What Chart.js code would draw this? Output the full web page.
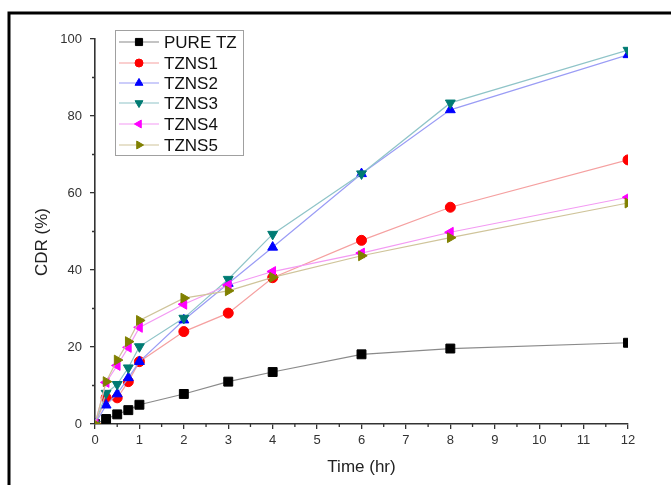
<!DOCTYPE html>
<html>
<head>
<meta charset="utf-8">
<script src="https://cdn.jsdelivr.net/npm/chart.js@4.4.1/dist/chart.umd.min.js"></script>
<style>
  html, body { margin: 0; padding: 0; background: #fff; }
  #wrap { width: 671px; height: 485px; position: relative; }
</style>
</head>
<body>
<div id="wrap"><canvas id="cdrChart" width="671" height="485"></canvas></div>
<script>
// time points (hr)
const times = [0, 0.25, 0.5, 0.75, 1, 2, 3, 4, 6, 8, 12];

// CDR (%)
const pureTZ = [0, 1.3, 2.5, 3.6, 5.0, 7.8, 11.0, 13.5, 18.1, 19.6, 21.1];
const tzns1 = [0, 6.8, 6.8, 11.0, 16.2, 24.0, 28.8, 38.0, 47.7, 56.3, 68.6];
const tzns2 = [0, 4.9, 7.8, 12.0, 16.2, 27.0, 36.5, 45.9, 65.0, 81.6, 95.9];
const tzns3 = [0, 8.0, 10.3, 14.6, 20.1, 27.5, 37.6, 49.3, 65.0, 83.4, 97.1];
const tzns4 = [0, 10.8, 15.2, 19.9, 25.1, 31.1, 36.1, 39.6, 44.4, 49.8, 58.9];
const tzns5 = [0, 11.0, 16.6, 21.4, 26.9, 32.7, 34.6, 38.1, 43.7, 48.4, 57.4];

const seriesNames = ['PURE TZ', 'TZNS1', 'TZNS2', 'TZNS3', 'TZNS4', 'TZNS5'];
const seriesData = [pureTZ, tzns1, tzns2, tzns3, tzns4, tzns5];

const xTicks = [0, 1, 2, 3, 4, 5, 6, 7, 8, 9, 10, 11, 12];
const yTicks = [0, 20, 40, 60, 80, 100];

// marker / line styles
const markerColors = ['#000000', '#ff0000', '#0000ff', '#007b73', '#ff00ff', '#808000'];
const lineColors = ['#8a8a8a', '#f5a0a0', '#9a9cf5', '#8fc4c8', '#f39af3', '#cfc49a'];
const pointStyles = ['rect', 'circle', 'triangle', 'triangle', 'triangle', 'triangle'];
const rotations = [0, 0, 0, 180, -90, 90];
const radii = [6.3, 5, 5.7, 5.7, 5.7, 5.7];

const FONT = '"Liberation Sans", Arial, sans-serif';

let datasets = seriesNames.map((name, i) => ({
  label: name,
  data: times.map((t, j) => ({ x: t, y: seriesData[i][j] })),
  borderColor: lineColors[i],
  borderWidth: 1.2,
  backgroundColor: markerColors[i],
  pointBackgroundColor: markerColors[i],
  pointBorderColor: markerColors[i],
  pointBorderWidth: 1,
  pointStyle: pointStyles[i],
  pointRotation: rotations[i],
  pointRadius: radii[i],
  tension: 0,
  order: 5 - i,
}));

// frame round the figure
const framePlugin = {
  id: 'frame',
  beforeDraw(chart) {
    let ctx = chart.ctx;
    ctx.save();
    ctx.fillStyle = '#fff';
    ctx.fillRect(0, 0, chart.width, chart.height);
    ctx.strokeStyle = '#000';
    ctx.lineWidth = 3;
    ctx.beginPath();
    ctx.moveTo(9, chart.height);
    ctx.lineTo(9, 13);
    ctx.lineTo(chart.width, 13);
    ctx.stroke();
    ctx.restore();
  },
};

// minor ticks + axis titles
const axisExtras = {
  id: 'axisExtras',
  afterDraw(chart) {
    let ctx = chart.ctx;
    let xs = chart.scales.x;
    let ys = chart.scales.y;
    let area = chart.chartArea;
    ctx.save();
    ctx.strokeStyle = '#333';
    ctx.lineWidth = 1.3;
    ctx.beginPath();
    for (let v = 0.5; v < 12; v += 1) {
      let px = xs.getPixelForValue(v);
      ctx.moveTo(px, area.bottom);
      ctx.lineTo(px, area.bottom + 3);
    }
    for (let v = 10; v < 100; v += 20) {
      let py = ys.getPixelForValue(v);
      ctx.moveTo(area.left, py);
      ctx.lineTo(area.left - 3, py);
    }
    ctx.stroke();

    ctx.fillStyle = '#222';
    ctx.font = '17px ' + FONT;
    ctx.textAlign = 'center';
    ctx.textBaseline = 'middle';
    ctx.fillText('Time (hr)', (area.left + area.right) / 2, 467);
    ctx.translate(42, 242);
    ctx.rotate(-Math.PI / 2);
    ctx.fillText('CDR (%)', 0, 0);
    ctx.restore();
  },
};

// legend box inside the plot
const boxLegend = {
  id: 'boxLegend',
  afterDraw(chart) {
    let ctx = chart.ctx;
    ctx.save();
    ctx.strokeStyle = '#a0a0a0';
    ctx.lineWidth = 1;
    ctx.fillStyle = '#fff';
    ctx.fillRect(115.5, 30.5, 128, 125);
    ctx.strokeRect(115.5, 30.5, 128, 125);
    let rows = [42, 63, 83, 103, 124, 145];
    seriesNames.forEach((name, i) => {
      let y = rows[i];
      ctx.strokeStyle = lineColors[i];
      ctx.lineWidth = 1.2;
      ctx.beginPath();
      ctx.moveTo(119, y);
      ctx.lineTo(159, y);
      ctx.stroke();
      ctx.fillStyle = markerColors[i];
      ctx.strokeStyle = markerColors[i];
      ctx.lineWidth = 1;
      Chart.helpers.drawPoint(ctx, {
        pointStyle: pointStyles[i],
        rotation: rotations[i],
        radius: radii[i] * 0.8,
        borderWidth: 1,
      }, 139, y);
      ctx.fillStyle = '#111';
      ctx.font = '17px ' + FONT;
      ctx.textAlign = 'left';
      ctx.textBaseline = 'middle';
      ctx.fillText(name, 164, y + 1);
    });
    ctx.restore();
  },
};

const ctx = document.getElementById('cdrChart');
new Chart(ctx, {
  type: 'line',
  data: { datasets },
  options: {
    responsive: false,
    animation: false,
    layout: { padding: { top: 39, right: 43, left: 0, bottom: 0 } },
    plugins: {
      legend: { display: false },
      tooltip: { enabled: false },
    },
    scales: {
      x: {
        type: 'linear',
        min: 0,
        max: 12,
        afterFit: (scale) => { scale.height = 61; },
        afterBuildTicks: (scale) => { scale.ticks = xTicks.map((v) => ({ value: v })); },
        grid: { drawOnChartArea: false, drawTicks: true, tickLength: 5, color: '#333', lineWidth: 1.3 },
        border: { display: true, color: '#333', width: 1.6 },
        ticks: { color: '#333', font: { family: FONT, size: 13 }, padding: 4, maxRotation: 0 },
      },
      y: {
        type: 'linear',
        min: 0,
        max: 100,
        afterFit: (scale) => { scale.width = 95; },
        afterBuildTicks: (scale) => { scale.ticks = yTicks.map((v) => ({ value: v })); },
        grid: { drawOnChartArea: false, drawTicks: true, tickLength: 5, color: '#333', lineWidth: 1.3 },
        border: { display: true, color: '#333', width: 1.6 },
        ticks: { color: '#333', font: { family: FONT, size: 13 }, padding: 8 },
      },
    },
  },
  plugins: [framePlugin, axisExtras, boxLegend],
});
</script>
</body>
</html>
